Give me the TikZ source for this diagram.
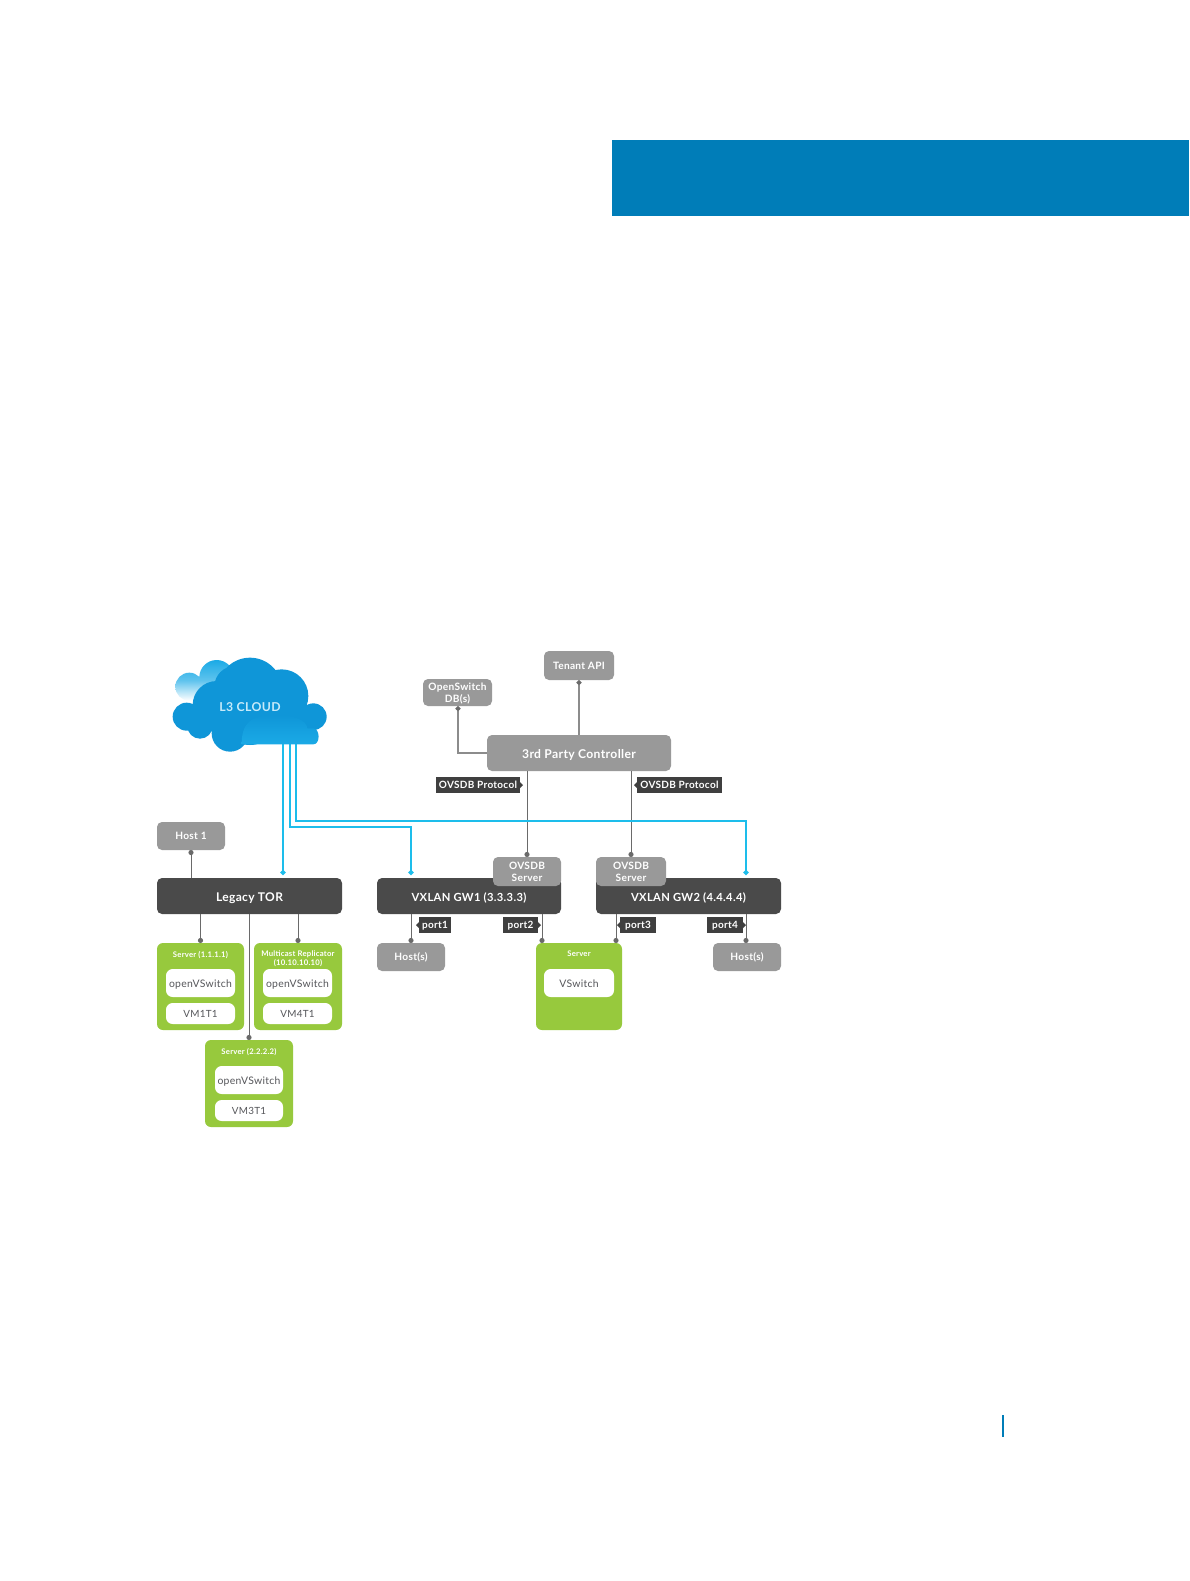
\documentclass[tikz,border=0pt]{standalone}
\usepackage{fontspec}
\setmainfont{Lato}[LetterSpace=3]
\usetikzlibrary{arrows.meta,calc}
\definecolor{banner}{HTML}{007DB8}
\definecolor{gnode}{HTML}{999999}
\definecolor{dnode}{HTML}{4A4A4A}
\definecolor{lbl}{HTML}{3F3F3F}
\definecolor{grn}{HTML}{97C93D}
\definecolor{wire}{HTML}{6A6A6A}
\definecolor{wirelight}{HTML}{8C8C8C}
\definecolor{cyanw}{HTML}{1DBDEB}
\definecolor{cloudA}{HTML}{0F96D8}
\definecolor{cloudB}{HTML}{1BAAE6}
\definecolor{txt}{HTML}{55565A}
\def\tshift{-3.2pt}
\newcommand\pbox[7]{%
  \pgfmathsetmacro\pw{(#5-#3)*0.75}\pgfmathsetmacro\ph{(#6-#4)*0.75}%
  \node[#1,minimum width=\pw pt,minimum height=\ph pt] (#2) at ({(#3+#5)/2},{(#4+#6)/2})
    {\raisebox{\tshift}[0pt][0pt]{\begin{tabular}{@{}c@{}}#7\end{tabular}}};}
\tikzset{
  x=0.75pt,y=-0.75pt,
  base/.style={inner sep=0pt,outer sep=0pt,rounded corners=3.75pt},
  greybox/.style={base,fill=gnode,text=white,font=\fontsize{7.6pt}{8.6pt}\selectfont\bfseries},
  darkbox/.style={base,fill=dnode,text=white,font=\fontsize{8.4pt}{9pt}\selectfont\bfseries\def\tshift{-4.1pt}},
  torbox/.style={darkbox,font=\fontsize{9pt}{10pt}\selectfont\bfseries\def\tshift{-4.1pt}},
  ctrlbox/.style={base,fill=gnode,text=white,font=\fontsize{9.1pt}{10pt}\selectfont\bfseries\def\tshift{-4.1pt}},
  greenbox/.style={base,fill=grn,rounded corners=4.5pt},
  whitebox/.style={base,fill=white,text=txt,rounded corners=5pt,font=\fontsize{7.8pt}{9pt}\selectfont\def\tshift{-3.4pt}},
  vmbox/.style={whitebox,font=\fontsize{7.4pt}{9pt}\selectfont\def\tshift{-2.8pt}},
  tagbox/.style={inner sep=0pt,outer sep=0pt,fill=lbl,text=white,sharp corners,font=\fontsize{7.5pt}{8pt}\selectfont\bfseries\def\tshift{-2.9pt}},
  title/.style={inner sep=0pt,text=white,align=center,font=\fontsize{5.8pt}{6.8pt}\selectfont\bfseries},
  wirel/.style={draw=wire,line width=0.75pt,-{Circle[length=3.8pt,width=3.8pt]}},
  wiren/.style={draw=wirelight,line width=0.85pt,{Circle[length=3.8pt,width=3.8pt,color=wire]}-},
  wires/.style={draw=wire,line width=0.75pt,{Circle[length=3.8pt,width=3.8pt]}-},
  cyanl/.style={draw=cyanw,line width=1.3pt,-{Circle[length=3.8pt,width=3.8pt]}},
}
\begin{document}
\begin{tikzpicture}
\useasboundingbox (0,0) rectangle (1189,1581);
\fill[white] (0,0) rectangle (1189,1581);
\fill[banner] (612,140) rectangle (1189,216);
\fill[banner] (1002,1415) rectangle (1004,1437);

\coordinate (cA) at (283,730);
\coordinate (cB) at (290,730);
\coordinate (cC) at (296,730);

% nodes
\pbox{ctrlbox}{ctrl}{487}{735}{671}{771}{3rd Party Controller}
\pbox{greybox}{tenant}{544}{651}{614}{680}{Tenant API}
\pbox{greybox}{osdb}{423}{679}{492}{706}{OpenSwitch\\DB(s)}
\pbox{greybox}{host1}{157}{822}{225}{850}{Host 1}
\pbox{torbox}{tor}{157}{878}{342}{914}{Legacy TOR}
\pbox{darkbox}{gw1}{377}{878}{561}{914}{VXLAN GW1 (3.3.3.3)}
\pbox{darkbox}{gw2}{596}{878}{781}{914}{VXLAN GW2 (4.4.4.4)}
\pbox{greybox}{ov1}{493}{857}{561}{886}{OVSDB\\Server}
\pbox{greybox}{ov2}{596}{857}{666}{886}{OVSDB\\Server}
\pbox{greybox}{hl}{377}{943}{445}{971}{Host(s)}
\pbox{greybox}{hr}{713}{943}{781}{971}{Host(s)}

\pbox{greenbox}{s1}{157}{943}{244}{1030}{}
\pbox{greenbox}{s4}{254}{943}{342}{1030}{}
\pbox{greenbox}{s3}{205}{1040}{293}{1127}{}
\pbox{greenbox}{sv}{536}{943}{622}{1030}{}
\node[title] (ts1) at (200.5,955) {Server (1.1.1.1)};
\node[title] (ts4) at (298,958.5) {Multicast Replicator\\(10.10.10.10)};
\node[title] (ts3) at (249,1052) {Server (2.2.2.2)};
\node[title] (tsv) at (579,954) {Server};
\pbox{whitebox}{o1}{166}{969}{235}{997}{openVSwitch}
\pbox{vmbox}{v1}{166}{1003}{235}{1024}{VM1T1}
\pbox{whitebox}{o4}{263}{969}{332}{997}{openVSwitch}
\pbox{vmbox}{v4}{263}{1003}{332}{1024}{VM4T1}
\pbox{whitebox}{o3}{215}{1066}{283}{1094}{openVSwitch}
\pbox{vmbox}{v3}{215}{1100}{283}{1121}{VM3T1}
\pbox{whitebox}{vs}{544}{969}{614}{997}{VSwitch}

% connector anchors
\coordinate (xa) at (527,771);
\coordinate (xb) at (631,771);
\coordinate (xc) at (542,914);
\coordinate (xd) at (616,914);
\coordinate (xe) at (746,914);
\coordinate (xf) at (411,914);
\coordinate (ya) at (458,753);

% grey connectors
\draw[wiren] (osdb.south -| ya) |- (ctrl.west |- ya);
\draw[wiren] (tenant.south) -- (tenant.south |- ctrl.north);
\draw[wirel] (xa) -- (xa |- ov1.north);
\draw[wirel] (xb) -- (xb |- ov2.north);
\draw[wires] (host1.south) -- (host1.south |- tor.north);
\draw[wirel] (s1.north |- tor.south) -- (s1.north);
\draw[wirel] (s4.north |- tor.south) -- (s4.north);
\draw[wirel] (s3.north |- tor.south) -- (s3.north);
\draw[wirel] (xf) -- (xf |- hl.north);
\draw[wirel] (xc) -- (xc |- sv.north);
\draw[wirel] (xd) -- (xd |- sv.north);
\draw[wirel] (xe) -- (xe |- hr.north);

% cyan connectors
\coordinate (eA) at (283,875);
\coordinate (eB) at (411,875);
\coordinate (eC) at (746,875);
\draw[cyanl] (cA) -- (eA);
\draw[cyanl] (cB) |- (411,827) -- (eB);
\draw[cyanl] (cC) |- (746,821) -- (eC);

% tags
\pbox{tagbox}{p1}{419}{917}{451}{933}{port1}
\pbox{tagbox}{p2}{503}{917}{538}{933}{port2}
\pbox{tagbox}{p3}{620}{917}{656}{933}{port3}
\pbox{tagbox}{p4}{707}{917}{743}{933}{port4}
\pbox{tagbox}{t1}{436}{777}{520}{793}{OVSDB Protocol}
\pbox{tagbox}{t2}{637}{777}{722}{793}{OVSDB Protocol}
\foreach \n in {p1,p3,t2}{\fill[lbl] ($(\n.west)+(0,-3)$) -- ++(-3,3) -- ++(3,3) -- cycle;}
\foreach \n in {p2,p4,t1}{\fill[lbl] ($(\n.east)+(0,-3)$) -- ++(3,3) -- ++(-3,3) -- cycle;}

% cloud, in units of one third of a pixel
\begin{scope}[shift={(150,640)},x=0.25pt,y=-0.25pt]
\shade[top color=cloudB,bottom color=white,middle color=cloudB!70!white]
  (118,140) circle[radius=42] (200,112) circle[radius=52];
\fill[cloudA] (300,150) circle[radius=97] (395,168) circle[radius=80]
  (200,195) circle[radius=72] (255,140) circle[radius=62]
  (110,230) circle[radius=42] (150,258) circle[radius=38]
  (240,280) circle[radius=55] (490,230) circle[radius=40] (300,230) circle[radius=85]
  (420,240) circle[radius=60];
\shade[top color=cloudA,bottom color=cloudB]
  (275,313) .. controls (275,250) and (300,225) .. (380,225)
  .. controls (430,225) and (470,240) .. (472,265) -- (490,265)
  .. controls (510,265) and (512,313) .. (490,313) -- cycle;
\node[inner sep=0pt,text=cloudB!25!white,font=\fontsize{9.2pt}{10pt}\selectfont\bfseries] (cloudname) at (300,201) {L3 CLOUD};
\end{scope}
\end{tikzpicture}
\end{document}
